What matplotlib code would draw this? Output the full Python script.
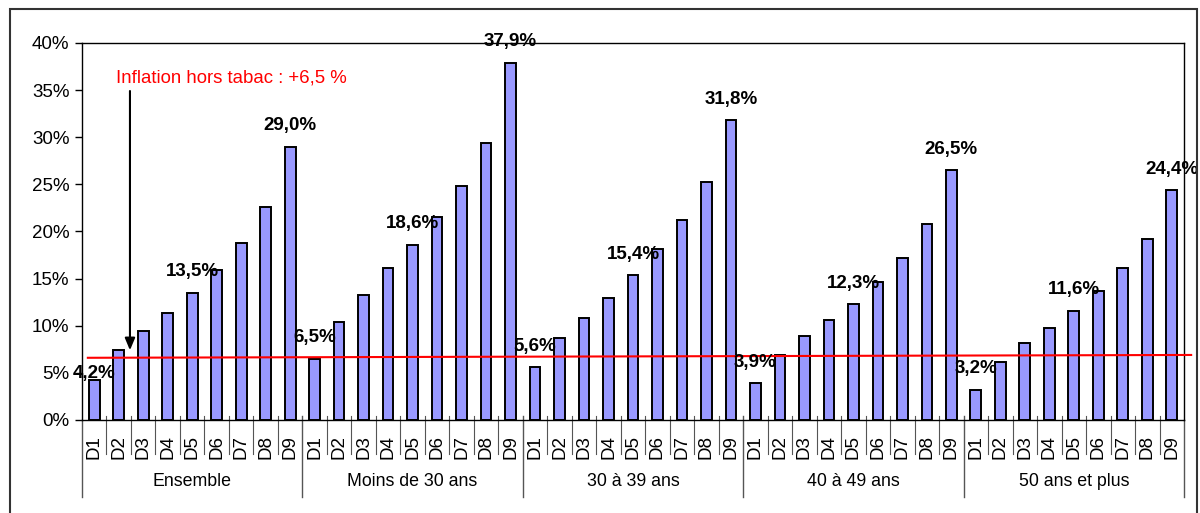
import numpy as np
import matplotlib.pyplot as plt
from matplotlib.patches import Rectangle

plt.rcParams["font.family"] = ["Liberation Sans", "DejaVu Sans"]

groups = ["Ensemble", "Moins de 30 ans", "30 à 39 ans", "40 à 49 ans", "50 ans et plus"]
deciles = ["D1", "D2", "D3", "D4", "D5", "D6", "D7", "D8", "D9"]

ensemble = [4.2, 7.4, 9.4, 11.3, 13.5, 15.9, 18.8, 22.6, 29.0]
moins_30 = [6.5, 10.4, 13.3, 16.1, 18.6, 21.5, 24.8, 29.4, 37.9]
de_30_39 = [5.6, 8.7, 10.8, 12.9, 15.4, 18.1, 21.2, 25.2, 31.8]
de_40_49 = [3.9, 6.9, 8.9, 10.6, 12.3, 14.6, 17.2, 20.8, 26.5]
plus_50 = [3.2, 6.2, 8.2, 9.8, 11.6, 13.7, 16.1, 19.2, 24.4]

# deciles that get a value label (D1, D5, D9)
labelled = ["D1", "D5", "D9"]

inflation = 6.5
inflation_line = [6.6, 6.9]

series = [ensemble, moins_30, de_30_39, de_40_49, plus_50]
values = np.concatenate(series)
n = len(values)
x = np.arange(n)
ticklabels = deciles * len(groups)

fig = plt.figure(figsize=(12, 5.13), dpi=100)
ax = fig.add_axes([0.0683, 0.1813, 0.9184, 0.7349])

ax.bar(x, values, width=0.44, color="#9999ff", edgecolor="black", linewidth=1.4, zorder=2)

ax.set_xlim(-0.5, n - 0.5)
ax.set_ylim(0, 40)
ax.set_yticks(np.arange(0, 41, 5))
ax.set_yticklabels([f"{v}%" for v in range(0, 41, 5)], fontsize=13.5)
ax.tick_params(axis="y", length=5, width=1, direction="out", pad=4)

ax.set_xticks(x)
ax.set_xticklabels(ticklabels, rotation=90, fontsize=13.5)
ax.tick_params(axis="x", length=0, pad=11)
for s in ax.spines.values():
    s.set_linewidth(1)

# category separators below the axis
trans = ax.get_xaxis_transform()
for b in np.arange(0.5, n - 1, 1.0):
    if (b + 0.5) % len(deciles) == 0:
        ax.plot([b, b], [0.01, -0.205], color="#555555", lw=1, transform=trans, clip_on=False)
    else:
        ax.plot([b, b], [0.01, -0.09], color="#555555", lw=0.8, transform=trans, clip_on=False)
for b in [-0.5, n - 0.5]:
    ax.plot([b, b], [0, -0.205], color="#555555", lw=1, transform=trans, clip_on=False)

for i, g in enumerate(groups):
    center = i * len(deciles) + (len(deciles) - 1) / 2
    ax.text(center, -0.162, g, transform=trans, ha="center", va="center", fontsize=12.8)

# value labels
for xi, v, lab in zip(x, values, ticklabels):
    if lab in labelled:
        off = 5 if xi == 0 else 15
        ax.annotate(f"{v:.1f}%".replace(".", ","), (xi, v), xytext=(0, off),
                    textcoords="offset points", ha="center", va="center",
                    fontsize=13.5, fontweight="bold", zorder=5, annotation_clip=False)

# inflation reference line
ax.plot([-0.26, n - 0.21], inflation_line, color="red", lw=1.5, zorder=3, clip_on=False)
ax.text(0.88, 36.3, f"Inflation hors tabac : +{inflation:.1f} %".replace(".", ","),
        color="red", fontsize=13.4, ha="left", va="center")
ax.annotate("", xy=(1.46, 7.1), xytext=(1.46, 35.2),
            arrowprops=dict(arrowstyle="-|>,head_width=0.25,head_length=0.6",
                            color="black", lw=1.5, mutation_scale=12))

# outer frame
fig.patches.append(Rectangle((10 / 1200, -0.02), 1187 / 1200, 1.02 - 9 / 513,
                             transform=fig.transFigure, fill=False,
                             edgecolor="#333333", lw=1.5))

fig.savefig("out.png", dpi=100)
